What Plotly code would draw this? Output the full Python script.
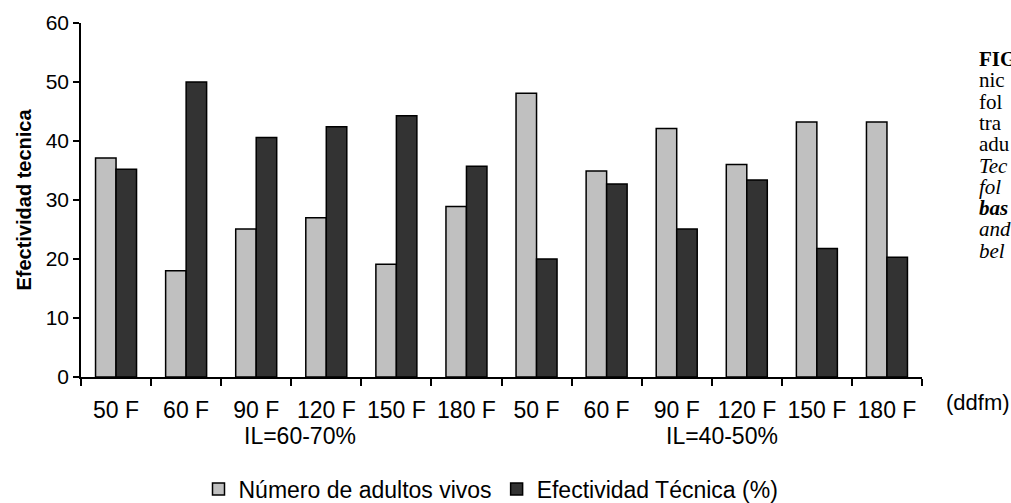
import plotly.graph_objects as go

categories = ["50 F", "60 F", "90 F", "120 F", "150 F", "180 F",
              "50 F", "60 F", "90 F", "120 F", "150 F", "180 F"]
cat_ids = ["a50", "a60", "a90", "a120", "a150", "a180",
           "b50", "b60", "b90", "b120", "b150", "b180"]
adultos_vivos = [37.1, 18.0, 25.1, 27.0, 19.1, 28.9, 48.1, 34.9, 42.1, 36.0, 43.2, 43.2]
efectividad = [35.2, 50.0, 40.6, 42.4, 44.3, 35.7, 20.0, 32.7, 25.1, 33.4, 21.8, 20.3]
group_labels = ["IL=60-70%", "IL=40-50%"]
group_pos = [2.62, 8.64]

caption_lines = ["<b>FIG</b>", "nic", "fol", "tra", "adu", "<i>Tec</i>",
                 "<i>fol</i>", "<b><i>bas</i></b>", "<i>and</i>", "<i>bel</i>"]

FONT = "Liberation Sans, Arial, sans-serif"

fig = go.Figure()
fig.add_trace(go.Bar(
    x=cat_ids, y=adultos_vivos, name="Número de adultos vivos",
    marker=dict(color="#C0C0C0", line=dict(color="black", width=1.5)),
))
fig.add_trace(go.Bar(
    x=cat_ids, y=efectividad, name="Efectividad Técnica (%)",
    marker=dict(color="#333333", line=dict(color="black", width=1.5)),
))

W, H = 1011, 503
L, R, T, B = 81, 89, 23, 126
pw, ph = W - L - R, H - T - B

def px_to_paper_x(px):
    return (px - L) / pw

def px_to_paper_y(py):
    return (H - B - py) / ph

annotations = []
for lab, pos in zip(group_labels, group_pos):
    annotations.append(dict(
        x=pos, y=px_to_paper_y(436), xref="x", yref="paper",
        text=lab, showarrow=False, font=dict(family=FONT, size=23, color="black"),
        xanchor="center", yanchor="middle"))
annotations.append(dict(
    x=px_to_paper_x(944), y=px_to_paper_y(402), xref="paper", yref="paper",
    text="(ddfm)", showarrow=False, font=dict(family=FONT, size=22, color="black"),
    xanchor="left", yanchor="middle"))
for i, line in enumerate(caption_lines):
    annotations.append(dict(
        x=px_to_paper_x(977), y=px_to_paper_y(59 + i * 21.3), xref="paper", yref="paper",
        text=line, showarrow=False,
        font=dict(family="Liberation Serif, Times New Roman, serif", size=21, color="black"),
        xanchor="left", yanchor="middle"))

fig.update_layout(
    width=W, height=H,
    margin=dict(l=L, r=R, t=T, b=B, autoexpand=False),
    paper_bgcolor="white", plot_bgcolor="white",
    barmode="group", bargap=0.415, bargroupgap=0,
    font=dict(family=FONT, size=20, color="black"),
    showlegend=True,
    legend=dict(orientation="h", x=px_to_paper_x(491), xanchor="center",
                y=px_to_paper_y(489), yanchor="middle",
                font=dict(family=FONT, size=23, color="black"),
                itemwidth=30, tracegroupgap=0, bgcolor="rgba(0,0,0,0)"),
    xaxis=dict(
        type="category", categoryorder="array", categoryarray=cat_ids,
        tickvals=cat_ids, ticktext=categories, tickson="boundaries",
        ticks="outside", ticklen=7, tickwidth=1.5, tickcolor="black",
        showline=True, linecolor="black", linewidth=1.5,
        showgrid=False, zeroline=False,
        tickfont=dict(family=FONT, size=23, color="black"),
        ticklabelstandoff=12, automargin=False,
    ),
    yaxis=dict(
        range=[0, 60], dtick=10, tick0=0,
        ticks="outside", ticklen=6, tickwidth=1.5, tickcolor="black",
        showline=True, linecolor="black", linewidth=1.5,
        showgrid=False, zeroline=False,
        tickfont=dict(family=FONT, size=21, color="black"),
        title=dict(text="<b>Efectividad tecnica</b>", standoff=9,
                   font=dict(family=FONT, size=20, color="black")),
        automargin=False,
    ),
    annotations=annotations,
)

fig.write_html("out.html", config={"displayModeBar": False},
               post_script="document.body.style.margin='0';")
